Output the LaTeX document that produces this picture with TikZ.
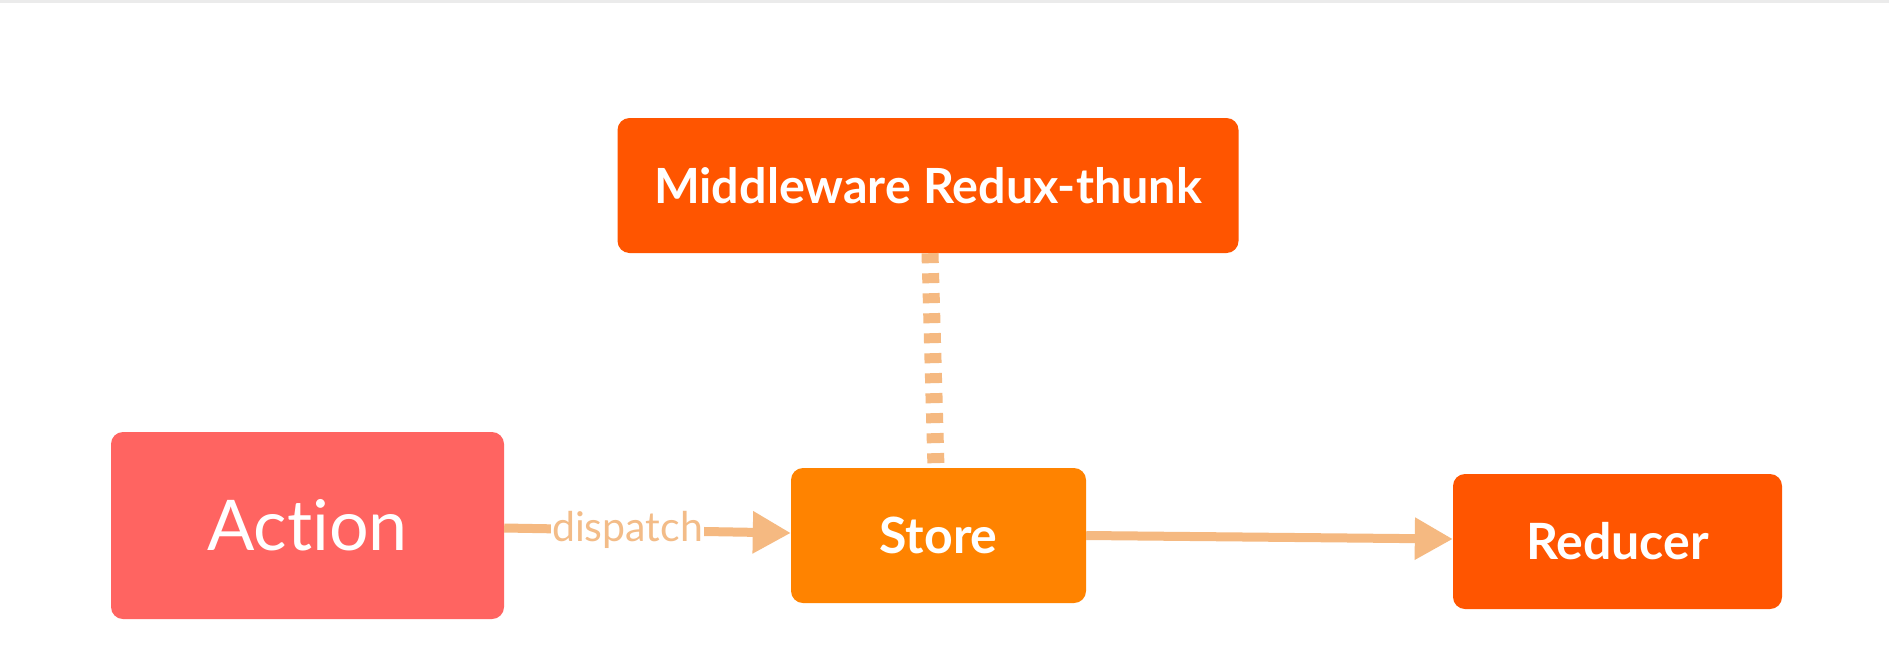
\documentclass[tikz,border=0pt]{standalone}
\usepackage{fontspec}
\setmainfont{Lato}[Ligatures={NoCommon}]
\usetikzlibrary{arrows.meta}
\definecolor{cMid}{HTML}{FF5500}
\definecolor{cStore}{HTML}{FF8300}
\definecolor{cAction}{HTML}{FF6461}
\definecolor{cArrow}{HTML}{F5B981}
\definecolor{cLabel}{HTML}{F3BC88}
\tikzset{
  box/.style={rectangle, rounded corners=12pt, inner sep=0pt, text=white, anchor=center},
  flow/.style={draw=cArrow, line width=9pt, -{Triangle[length=38pt,width=40pt]}},
  dots/.style={draw=cArrow, line width=17pt, dash pattern=on 10pt off 10pt},
}
\begin{document}
\begin{tikzpicture}[x=1pt,y=-1pt]
\useasboundingbox (0,0) rectangle (1889,659);
\fill[white] (0,0) rectangle (1889,659);
\draw[black!8, line width=3pt] (0,1.5) -- (1889,1.5);
\node[box, fill=cMid, minimum width=621pt, minimum height=135pt,
  font=\bfseries\fontsize{48.5}{52}\selectfont] (mid) at (928,185.5) {Middleware Redux-thunk};
\node[box, fill=cAction, minimum width=393pt, minimum height=187pt,
  font=\fontsize{70}{76}\selectfont] (action) at (307.5,525.5) {Action};
\node[box, fill=cStore, minimum width=295pt, minimum height=135pt,
  font=\bfseries\fontsize{50}{54}\selectfont] (store) at (938.5,535.5) {Store};
\node[box, fill=cMid, minimum width=329pt, minimum height=135pt,
  font=\bfseries\fontsize{50}{54}\selectfont] (reducer) at (1617.5,541.5) {Reducer};
\draw[dots] ([xshift=2pt]mid.south) -- ([xshift=-2.5pt]store.north);
\draw[flow] ([yshift=-2.5pt]action.east) -- node[pos=0.43, fill=white, inner xsep=1pt, inner ysep=2pt, text=cLabel, font=\fontsize{41}{46}\selectfont] (lbl) {dispatch} ([yshift=2.5pt]store.west);
\draw[flow] (store.east) -- ([yshift=2.5pt]reducer.west);
\end{tikzpicture}
\end{document}
